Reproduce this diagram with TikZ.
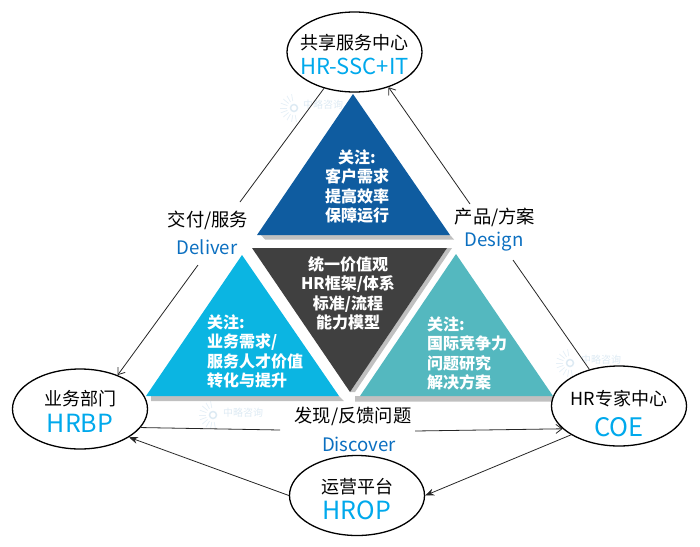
\documentclass[tikz,border=0pt]{standalone}
\usepackage{xcolor}
\usepackage{fontspec}
\setmainfont{Noto Sans CJK SC}
\usetikzlibrary{shapes.geometric,arrows.meta}
\definecolor{ssccolor}{HTML}{0F5CA0}
\definecolor{bpcolor}{HTML}{0BB5E2}
\definecolor{coecolor}{HTML}{54B8BF}
\definecolor{corecolor}{HTML}{404040}
\definecolor{shadecolor}{HTML}{C0C0C0}
\definecolor{namecolor}{HTML}{00A9EC}
\definecolor{flowcolor}{HTML}{0B6FC0}
\definecolor{markcolor}{HTML}{DDEAF3}

\begin{document}
\begin{tikzpicture}[x=1pt, y=-1pt,
    centre/.style={ellipse, draw, line width=1.3pt, fill=white, minimum width=135pt, minimum height=80pt, inner sep=0pt},
    centretext/.style={align=center, inner sep=0pt, font=\fontsize{18}{25}\selectfont},
    flowcn/.style={font=\fontsize{18.3}{20}\selectfont},
    flowen/.style={font=\fontsize{18.6}{20}\selectfont, text=flowcolor},
    focus/.style={text=white, align=left, inner sep=0pt, font=\fontsize{16}{19.4}\selectfont\bfseries},
    wmark/.style={text=markcolor, inner sep=0pt, font=\fontsize{10}{10}\selectfont},
    plainline/.style={line width=0.8pt, draw=black!85},
    openarrow/.style={plainline, -{Straight Barb[length=6pt,width=9pt]}},
    fillarrow/.style={plainline, -{Stealth[length=9pt,width=7pt]}}
]
\useasboundingbox (0,0) rectangle (700,546);

% Watermarks
\node[wmark] (markone) at (323,105) {中略咨询};
\node[wmark] (marktwo) at (243,413) {中略咨询};
\node[wmark] (markthree) at (601,360) {中略咨询};
\foreach \cx/\cy in {294/108, 213/415, 570/363} {
    \draw[markcolor, line width=1.5pt] (\cx,\cy) circle (3.5pt);
    \foreach \a in {100,120,...,280}
        \draw[markcolor!70, line width=0.8pt] (\cx,\cy) ++(\a:7pt) -- ++(\a:7pt);
}

% Gray edges
\fill[shadecolor] (261,235) -- (450,235) -- (454,239.5) -- (265,239.5) -- cycle;
\fill[shadecolor] (151,396) -- (339,396) -- (344,401) -- (151,401) -- cycle;
\fill[shadecolor] (355,396) -- (553,396) -- (558,401.5) -- (355,401.5) -- cycle;
\fill[shadecolor] (447,248) -- (452,248) -- (355,392) -- (350,392) -- cycle;

% Triangles
\fill[ssccolor] (353,94) -- (450,235) -- (257,235) -- cycle;
\fill[corecolor] (252,248) -- (447,248) -- (350,392) -- cycle;
\fill[bpcolor] (242,255) -- (339,396) -- (146,396) -- cycle;
\fill[coecolor] (456,254) -- (553,396) -- (360,396) -- cycle;

% Triangle texts
\node[focus, align=center] (sscfocus) at (357,186.5) {关注:\\客户需求\\提高效率\\保障运行};
\node[focus, align=center] (corefocus) at (348,293.5) {统一价值观\\HR框架/体系\\标准/流程\\能力模型};
\node[focus, anchor=west] (bpfocus) at (207,351.5) {关注:\\业务需求/\\服务人才价值\\转化与提升};
\node[focus, anchor=west] (coefocus) at (427,353.5) {关注:\\国际竞争力\\问题研究\\解决方案};

% Centres
\node[centre, label={[centretext, yshift=-3pt]center:共享服务中心\\{\fontsize{22}{24}\selectfont\color{namecolor}HR-SSC+IT}}] (ssc) at (354.5,52) {};
\node[centre, label={[centretext, yshift=-2.5pt]center:业务部门\\[2pt]{\fontsize{25}{25}\selectfont\color{namecolor}HRBP}}] (hrbp) at (80,409) {};
\node[centre, label={[centretext, yshift=-8pt]center:HR专家中心\\[6pt]{\fontsize{25.5}{28}\selectfont\color{namecolor}COE}}] (coe) at (619,406) {};
\node[centre, label={[centretext, yshift=-4pt]center:运营平台\\[1pt]{\fontsize{25}{25}\selectfont\color{namecolor}HROP}}] (hrop) at (357,495.5) {};

% Flow labels
\node[flowcn] (delivercn) at (208,220) {交付/服务};
\node[flowen] (deliveren) at (207,247) {Deliver};
\node[flowcn] (designcn) at (495,217) {产品/方案};
\node[flowen] (designen) at (494,242) {Design};
\node[flowcn] (discovercn) at (353,416) {发现/反馈问题};
\node[flowen] (discoveren) at (359,444) {Discover};

% Free ends of the broken lines
\coordinate (deliverup) at (240,202);
\coordinate (deliverdown) at (198,265);
\coordinate (designup) at (470,204);
\coordinate (designdown) at (513,260);
\coordinate (discoverleft) at (280,430);
\coordinate (discoverright) at (415,431);

% Arrows
\draw[plainline] (ssc.230) -- (deliverup);
\draw[openarrow] (deliverdown) -- (hrbp.42);
\draw[plainline] (coe.129) -- (designdown);
\draw[openarrow] (designup) -- (ssc.314);
\draw[plainline] (hrbp.343) -- (discoverleft);
\draw[openarrow] (discoverright) -- (coe.202);
\draw[fillarrow] (hrop.west) -- (hrbp.330);
\draw[fillarrow] (coe.211) -- (hrop.east);

\end{tikzpicture}
\end{document}
